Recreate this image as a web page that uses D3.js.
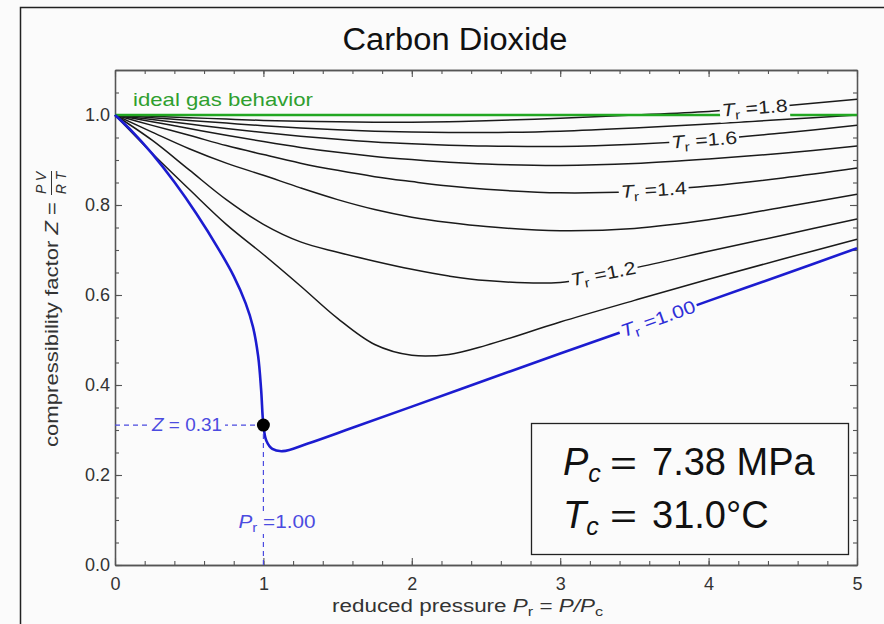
<!DOCTYPE html>
<html><head><meta charset="utf-8">
<script src="https://cdn.jsdelivr.net/npm/d3@7"></script>
<style>body{margin:0;background:#fbfbfb} text{font-family:"Liberation Sans",Arial,sans-serif}</style>
</head><body><svg id="c" width="884" height="624"></svg>
<script>
// ---------------- data ----------------
const chartTitle = "Carbon Dioxide";
const xTicks = [0, 1, 2, 3, 4, 5];
const xTickLabels = ["0", "1", "2", "3", "4", "5"];
const yTicks = [0.0, 0.2, 0.4, 0.6, 0.8, 1.0];
const yTickLabels = ["0.0", "0.2", "0.4", "0.6", "0.8", "1.0"];

// reduced pressure grid shared by Tr = 1.1 ... 1.8 isotherms
const prGrid = [0, 0.25, 0.5, 0.75, 1.0, 1.25, 1.5, 1.75, 2.0, 2.25, 2.5, 3.0, 3.5, 4.0, 4.5, 5.0];
const z_tr11 = [1, 0.915, 0.835, 0.757, 0.69, 0.62, 0.548, 0.49, 0.466, 0.468, 0.488, 0.54, 0.588, 0.635, 0.68, 0.724];
const z_tr12 = [1, 0.944, 0.878, 0.812, 0.757, 0.718, 0.695, 0.675, 0.657, 0.642, 0.632, 0.628, 0.66, 0.697, 0.733, 0.769];
const z_tr13 = [1, 0.962, 0.925, 0.893, 0.866, 0.838, 0.812, 0.79, 0.773, 0.761, 0.752, 0.743, 0.748, 0.767, 0.795, 0.824];
const z_tr14 = [1, 0.977, 0.955, 0.932, 0.912, 0.893, 0.877, 0.863, 0.852, 0.842, 0.835, 0.827, 0.83, 0.842, 0.86, 0.882];
const z_tr15 = [1, 0.985, 0.97, 0.955, 0.941, 0.928, 0.917, 0.908, 0.901, 0.895, 0.891, 0.888, 0.892, 0.902, 0.915, 0.931];
const z_tr16 = [1, 0.99, 0.98, 0.97, 0.961, 0.953, 0.946, 0.94, 0.936, 0.933, 0.931, 0.93, 0.935, 0.945, 0.96, 0.977];
const z_tr17 = [1, 0.994, 0.988, 0.982, 0.976, 0.971, 0.967, 0.964, 0.962, 0.961, 0.961, 0.964, 0.971, 0.98, 0.99, 1.0];
const z_tr18 = [1, 0.997, 0.994, 0.991, 0.988, 0.986, 0.985, 0.984, 0.984, 0.985, 0.987, 0.993, 1.0, 1.008, 1.02, 1.035];

// critical isotherm Tr = 1.00
const pr_tr10 = [0, 0.12, 0.25, 0.4, 0.55, 0.7, 0.8, 0.88, 0.93, 0.965, 0.985, 1.0, 1.02, 1.06, 1.13, 1.3, 1.6, 2.0, 2.5, 3.0, 3.5, 4.0, 4.5, 5.0];
const z_tr10 = [1, 0.962, 0.914, 0.851, 0.78, 0.701, 0.642, 0.582, 0.529, 0.463, 0.388, 0.311, 0.276, 0.258, 0.253, 0.27, 0.305, 0.352, 0.411, 0.47, 0.528, 0.587, 0.645, 0.704];

// ideal gas
const idealPr = [0, 5];
const idealZ = [1, 1];

const criticalPr = 1.0;
const criticalZ = 0.311;
const zLabelText = "0.31";
const prLabelText = "1.00";
const pcText = "7.38 MPa";
const tcText = "31.0°C";

// ---------------- drawing ----------------
const W = 884, H = 624, L = 115, R = 857, T = 70, B = 565;
const BG = "#fbfbfb";
const x = d3.scaleLinear().domain([0, 5]).range([L, R]);
const y = d3.scaleLinear().domain([0, 1.1]).range([B, T]);
const svg = d3.select("#c");

svg.append("rect").attr("width", W).attr("height", H).attr("fill", BG);
svg.append("rect").attr("x", 20.5).attr("y", 7.5).attr("width", W).attr("height", H)
  .attr("fill", "none").attr("stroke", "#222").attr("stroke-width", 1.5);

// title
svg.append("text").attr("x", 455).attr("y", 50).attr("text-anchor", "middle")
  .attr("font-size", 31).attr("fill", "#111").text(chartTitle)
  .attr("textLength", 225).attr("lengthAdjust", "spacingAndGlyphs");

// axes
const AX = "#555";
function styleAxis(g) {
  g.select(".domain").attr("stroke", AX).attr("stroke-width", 1.3);
  g.selectAll(".tick line").attr("stroke", AX).attr("stroke-width", 1.1);
  g.selectAll(".tick text").attr("font-size", 18).attr("fill", "#333")
    .attr("font-family", "'Liberation Sans', Arial, sans-serif");
}
const minorX = d3.range(0, 5.0001, 0.2);
const minorY = d3.range(0, 1.1001, 0.05);

svg.append("g").attr("transform", `translate(0,${B})`)
  .call(d3.axisBottom(x).tickValues(minorX).tickSize(-4).tickSizeOuter(0).tickFormat("")).call(styleAxis);
svg.append("g").attr("transform", `translate(0,${B})`)
  .call(d3.axisBottom(x).tickValues(xTicks).tickSize(-7).tickSizeOuter(0).tickPadding(12)
    .tickFormat((d, i) => xTickLabels[i])).call(styleAxis);
svg.append("g").attr("transform", `translate(0,${T})`)
  .call(d3.axisTop(x).tickValues(minorX).tickSize(-4).tickSizeOuter(0).tickFormat("")).call(styleAxis);
svg.append("g").attr("transform", `translate(0,${T})`)
  .call(d3.axisTop(x).tickValues(xTicks).tickSize(-7).tickSizeOuter(0).tickFormat("")).call(styleAxis);
svg.append("g").attr("transform", `translate(${L},0)`)
  .call(d3.axisLeft(y).tickValues(minorY).tickSize(-4).tickSizeOuter(0).tickFormat("")).call(styleAxis);
svg.append("g").attr("transform", `translate(${L},0)`)
  .call(d3.axisLeft(y).tickValues(yTicks).tickSize(-7).tickSizeOuter(0).tickPadding(5)
    .tickFormat((d, i) => yTickLabels[i])).call(styleAxis);
svg.append("g").attr("transform", `translate(${R},0)`)
  .call(d3.axisRight(y).tickValues(minorY).tickSize(-4).tickSizeOuter(0).tickFormat("")).call(styleAxis);
svg.append("g").attr("transform", `translate(${R},0)`)
  .call(d3.axisRight(y).tickValues(yTicks).tickSize(-7).tickSizeOuter(0).tickFormat("")).call(styleAxis);

// axis titles
const xt = svg.append("text").attr("x", 332).attr("y", 612).attr("font-size", 18).attr("fill", "#333");
xt.append("tspan").text("reduced pressure ");
xt.append("tspan").attr("font-style", "italic").text("P");
xt.append("tspan").attr("font-size", 13).attr("dy", 4).text("r");
xt.append("tspan").attr("dy", -4).text(" = ");
xt.append("tspan").attr("font-style", "italic").text("P/P");
xt.append("tspan").attr("font-size", 13).attr("dy", 4).text("c");
xt.attr("textLength", 271).attr("lengthAdjust", "spacingAndGlyphs");

const yt = svg.append("g").attr("transform", "translate(58,0) rotate(-90)");
const ytt = yt.append("text").attr("x", -202).attr("y", 0).attr("text-anchor", "end")
  .attr("font-size", 18).attr("fill", "#333");
ytt.append("tspan").text("compressibility factor ");
ytt.append("tspan").attr("font-style", "italic").text("Z");
ytt.append("tspan").text(" =");
ytt.attr("textLength", 245).attr("lengthAdjust", "spacingAndGlyphs");
yt.append("text").attr("x", -183).attr("y", -12).attr("text-anchor", "middle")
  .attr("font-size", 14).attr("font-style", "italic").attr("fill", "#333").text("P V");
yt.append("line").attr("x1", -195).attr("x2", -171).attr("y1", -6.5).attr("y2", -6.5)
  .attr("stroke", "#333").attr("stroke-width", 1);
yt.append("text").attr("x", -183).attr("y", 8).attr("text-anchor", "middle")
  .attr("font-size", 14).attr("font-style", "italic").attr("fill", "#333").text("R T");

// curves
const line = d3.line().x(d => x(d[0])).y(d => y(d[1])).curve(d3.curveCatmullRom.alpha(0.5));
const black = [
  {tr: "1.1", z: z_tr11}, {tr: "1.2", z: z_tr12}, {tr: "1.3", z: z_tr13}, {tr: "1.4", z: z_tr14},
  {tr: "1.5", z: z_tr15}, {tr: "1.6", z: z_tr16}, {tr: "1.7", z: z_tr17}, {tr: "1.8", z: z_tr18}
];
const curveG = svg.append("g");
black.forEach(c => {
  curveG.append("path").datum(prGrid.map((p, i) => [p, c.z[i]])).attr("d", line)
    .attr("fill", "none").attr("stroke", "#1a1a1a").attr("stroke-width", 1.5);
});
curveG.append("path").datum(idealPr.map((p, i) => [p, idealZ[i]])).attr("d", line)
  .attr("fill", "none").attr("stroke", "#22a722").attr("stroke-width", 2.6);
curveG.append("path").datum(pr_tr10.map((p, i) => [p, z_tr10[i]])).attr("d", line)
  .attr("fill", "none").attr("stroke", "#1c1cd0").attr("stroke-width", 2.6);

svg.append("text").attr("x", 133).attr("y", 106).attr("font-size", 19).attr("fill", "#2f9f2f")
  .text("ideal gas behavior").attr("textLength", 180).attr("lengthAdjust", "spacingAndGlyphs");

// curve labels with masks
function stretch(t, f) {
  const w = t.node().getComputedTextLength();
  t.attr("textLength", w * f).attr("lengthAdjust", "spacingAndGlyphs");
}
function curveLabel(prArr, zArr, pr, tr, color) {
  const f = d3.scaleLinear().domain(prArr).range(zArr);
  const px = x(pr), py = y(f(pr));
  const a = Math.atan2(y(f(pr + 0.25)) - y(f(pr - 0.25)), x(pr + 0.25) - x(pr - 0.25)) * 180 / Math.PI;
  const g = svg.append("g").attr("transform", `translate(${px},${py}) rotate(${a})`);
  const t = g.append("text").attr("x", 0).attr("y", 6).attr("text-anchor", "middle")
    .attr("font-size", 18).attr("fill", color);
  t.append("tspan").attr("font-style", "italic").text("T");
  t.append("tspan").attr("font-size", 13).attr("dy", 4).text("r");
  t.append("tspan").attr("dy", -4).text(" =" + tr);
  stretch(t, 1.18);
  const bb = t.node().getBBox();
  g.insert("rect", "text").attr("x", bb.x - 2).attr("y", bb.y + 2).attr("width", bb.width + 4)
    .attr("height", bb.height - 3).attr("fill", BG);
}
curveLabel(prGrid, z_tr18, 4.31, "1.8", "#222");
curveLabel(prGrid, z_tr16, 3.97, "1.6", "#222");
curveLabel(prGrid, z_tr14, 3.63, "1.4", "#222");
curveLabel(prGrid, z_tr12, 3.29, "1.2", "#222");
curveLabel(pr_tr10, z_tr10, 3.66, "1.00", "#2f2fd8");

// critical point guides
const DASH = "#4b4be0";
svg.append("line").attr("x1", x(0)).attr("x2", x(criticalPr)).attr("y1", y(criticalZ)).attr("y2", y(criticalZ))
  .attr("stroke", DASH).attr("stroke-width", 1.2).attr("stroke-dasharray", "5,4");
svg.append("line").attr("x1", x(criticalPr)).attr("x2", x(criticalPr)).attr("y1", y(criticalZ)).attr("y2", y(0))
  .attr("stroke", DASH).attr("stroke-width", 1.2).attr("stroke-dasharray", "5,4");

function guideLabel(cx, cy, parts, width) {
  const g = svg.append("g").attr("transform", `translate(${cx},${cy})`);
  const t = g.append("text").attr("x", 0).attr("y", 6).attr("text-anchor", "middle")
    .attr("font-size", 18).attr("fill", DASH);
  parts.forEach(p => {
    const s = t.append("tspan").text(p.t);
    if (p.i) s.attr("font-style", "italic");
    if (p.fs) s.attr("font-size", p.fs);
    if (p.dy) s.attr("dy", p.dy);
  });
  t.attr("textLength", width).attr("lengthAdjust", "spacingAndGlyphs");
  const bb = t.node().getBBox();
  g.insert("rect", "text").attr("x", bb.x - 3).attr("y", bb.y + 1).attr("width", bb.width + 6)
    .attr("height", bb.height - 2).attr("fill", BG);
}
guideLabel(187, y(criticalZ), [{t: "Z", i: true}, {t: " = " + zLabelText}], 70);
guideLabel(277, 522, [{t: "P", i: true}, {t: "r", fs: 13, dy: 4}, {t: " =" + prLabelText, dy: -4}], 77);

svg.append("circle").attr("cx", x(criticalPr)).attr("cy", y(criticalZ)).attr("r", 6.5).attr("fill", "#000");

// property box
svg.append("rect").attr("x", 531.5).attr("y", 423.5).attr("width", 317).attr("height", 131)
  .attr("fill", BG).attr("stroke", "#222").attr("stroke-width", 1.3);
function propLine(sym, val, by) {
  svg.append("text").attr("x", 563).attr("y", by).attr("font-size", 38)
    .attr("font-family", "'Liberation Serif', serif").attr("font-style", "italic").attr("fill", "#111")
    .call(t => { t.append("tspan").text(sym); t.append("tspan").attr("font-size", 25).attr("dy", 7).text("c"); });
  svg.append("text").attr("x", 610).attr("y", by).attr("font-size", 34)
    .attr("font-family", "'Liberation Serif', serif").attr("fill", "#111").text("=")
    .attr("textLength", 27).attr("lengthAdjust", "spacingAndGlyphs");
  svg.append("text").attr("x", 652).attr("y", by).attr("font-size", 38).attr("fill", "#111").text(val);
}
propLine("P", pcText, 475);
propLine("T", tcText, 528);
</script></body></html>
